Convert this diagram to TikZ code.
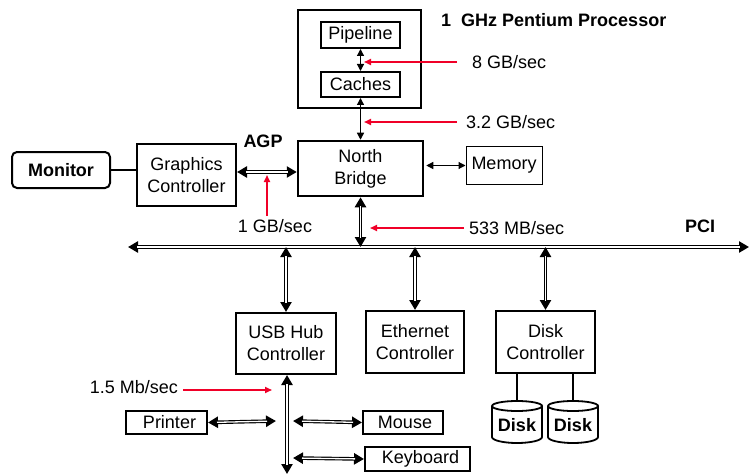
\documentclass[tikz,border=0pt]{standalone}
\usepackage{fontspec}
\setmainfont{Liberation Sans}
\usetikzlibrary{arrows.meta,calc}
\definecolor{rate}{RGB}{240,0,40}
\tikzset{
  x=1pt,y=-1pt,
  every node/.style={font=\fontsize{18}{22}\selectfont},
  box/.style={draw, line width=2pt, inner sep=0pt, align=center},
  thinbox/.style={draw, line width=1pt, inner sep=0pt, align=center},
  lbl/.style={inner sep=0pt},
  blbl/.style={inner sep=0pt, font=\fontsize{18}{22}\selectfont\bfseries},
  arr/.style={line width=1.2pt, {Triangle[length=7pt,width=7pt]}-{Triangle[length=7pt,width=7pt]}},
  dbl/.style={draw, line width=3.6pt,
     {Triangle[length=10pt,width=11pt]}-{Triangle[length=10pt,width=11pt]},
     postaction={draw=white, line width=1.3pt, shorten <=9pt, shorten >=9pt, -}},
  redarr/.style={rate, line width=1.6pt, -{Triangle[length=7pt,width=6pt]}},
}
\begin{document}
\begin{tikzpicture}
\useasboundingbox (0,0) rectangle (749,476);
% processor
\node[box, line width=2.5pt, minimum width=123pt, minimum height=98pt] (proc) at (359.5,59) {};
\node[box, minimum width=79pt, minimum height=26pt] (pipe) at (360.5,35) {Pipeline};
\node[box, minimum width=79pt, minimum height=25pt] (cache) at (360.5,84.5) {Caches};
\node[blbl, anchor=west] (ptitle) at (441,20) {1\ \ GHz Pentium Processor};
% north bridge etc
\node[box, line width=2.5pt, minimum width=125pt, minimum height=55pt] (nb) at (360.5,168.5) {North\\Bridge};
\node[thinbox, minimum width=76pt, minimum height=38pt] (mem) at (504,165) {Memory};
\node[box, minimum width=99pt, minimum height=62pt] (gc) at (186.5,175) {Graphics\\Controller};
\node[box, rounded corners=5pt, minimum width=98pt, minimum height=36pt, font=\fontsize{18}{22}\selectfont\bfseries] (mon) at (61,170) {Monitor};
\node[blbl] (agp) at (263,141) {AGP};
\node[blbl] (pcil) at (700,226) {PCI};
% PCI devices
\node[box, minimum width=100pt, minimum height=61pt] (usb) at (286,343.5) {USB Hub\\Controller};
\node[box, minimum width=98pt, minimum height=62pt] (eth) at (415,342) {Ethernet\\Controller};
\node[box, minimum width=99pt, minimum height=62pt] (dc) at (545.5,342) {Disk\\Controller};
% USB devices
\node[box, minimum width=81pt, minimum height=23pt] (prn) at (166.5,422.5) {\hspace{6pt}Printer};
\node[box, minimum width=80pt, minimum height=23pt] (mouse) at (403,422.5) {\hspace{4pt}Mouse};
\node[box, minimum width=105pt, minimum height=24pt] (kbd) at (417.5,459) {\hspace{6pt}Keyboard};
% coordinates
\coordinate (pciL) at (128,247);
\coordinate (pciR) at (749,247);
\coordinate (usbend) at (287,474);
\coordinate (prnend) at (276,421);
\coordinate (msend) at (293,421);
\coordinate (kbend) at (293,458);
% connectors
\draw[arr] (pipe.south) -- (cache.north);
\draw[arr] (cache.south) -- (nb.north);
\draw[arr] (nb.east) ++(2,-3) coordinate (nbm) -- (mem.west |- nbm);
\draw[line width=1.5pt] (mon.east) -- (mon.east -| gc.west);
\draw[dbl] (gc.east |- 0,172) -- (nb.west |- 0,172);
\draw[dbl] (pciL) -- (pciR);
\draw[dbl] (nb.south) -- (nb.south |- pciL);
\draw[dbl] (usb.north |- pciL) -- (usb.north);
\draw[dbl] (eth.north |- pciL) -- (eth.north);
\draw[dbl] (dc.north |- pciL) -- (dc.north);
\draw[dbl] (usb.south -| usbend) -- (usbend);
\draw[dbl] (prn.east) -- (prnend);
\draw[dbl] (msend) -- (mouse.west);
\draw[dbl] (kbend) -- (kbd.west);
% disks
\foreach \n/\cx in {d1/517, d2/573}{
  \coordinate (\n top) at (\cx,401);
  \draw[line width=1.8pt] (\cx-25,406) -- (\cx-25,437) arc[start angle=180,end angle=0,x radius=25,y radius=6] -- (\cx+25,406);
  \draw[line width=1.8pt] (\cx,406) ellipse[x radius=25,y radius=5];
  \node[blbl] (\n) at (\cx,425) {Disk};
}
\draw[line width=1.5pt] (dc.south -| d1top) -- (d1top);
\draw[line width=1.5pt] (dc.south -| d2top) -- (d2top);
% rates
\node[lbl, anchor=west] (r8) at (472,62) {8 GB/sec};
\draw[redarr] (457,62) -- (364,62);
\node[lbl, anchor=west] (r32) at (466,122) {3.2 GB/sec};
\draw[redarr] (457,122) -- (364,122);
\node[lbl, anchor=west] (r533) at (469,228) {533 MB/sec};
\draw[redarr] (464,228) -- (370,228);
\node[lbl] (r1) at (275,226) {1 GB/sec};
\draw[redarr] (267,216) -- (267,175);
\node[lbl, anchor=east] (r15) at (178,387) {1.5 Mb/sec};
\draw[redarr] (183,390) -- (272,390);
\end{tikzpicture}
\end{document}
